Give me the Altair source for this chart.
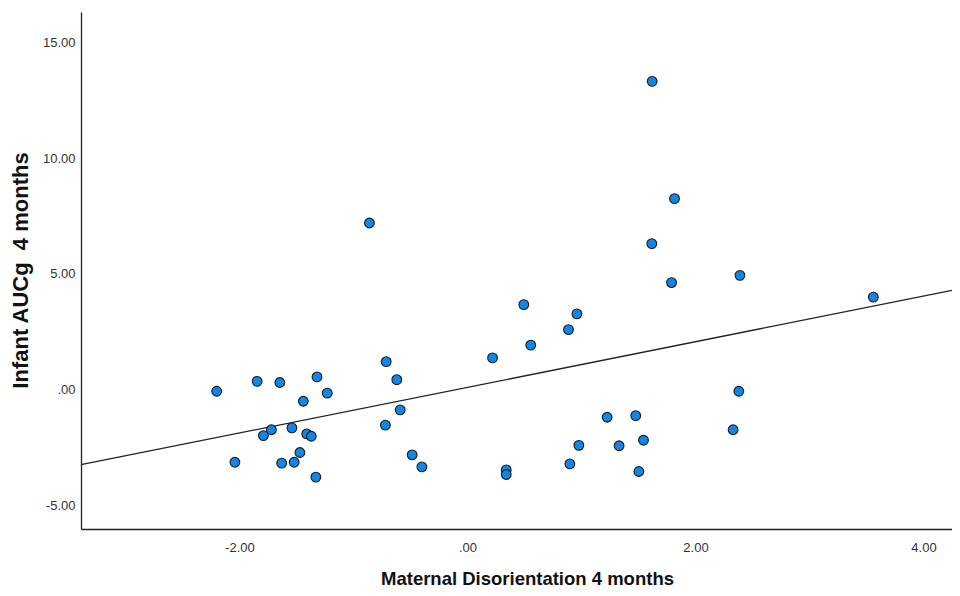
import altair as alt
import pandas as pd

# Maternal Disorientation 4 months (x) and Infant AUCg 4 months (y)
x_vals = [-2.20, -1.845, -1.646, -1.32, -1.23, -1.44, -1.72, -1.79, -1.54, -1.41,
          -1.37, -1.47, -2.04, -1.63, -1.52, -1.33,
          -0.86, 0.494, 0.555, 0.22, -0.713, -0.62, -0.59, -0.72, -0.485, -0.40,
          0.34, 0.34,
          1.79, 0.96, 0.886, 1.225, 1.476, 0.977, 1.33, 1.544, 0.898, 1.503,
          1.62, 1.816, 1.617,
          2.39, 3.56, 2.38, 2.33]
y_vals = [-0.06, 0.37, 0.32, 0.56, -0.14, -0.49, -1.72, -1.97, -1.64, -1.90,
          -2.00, -2.70, -3.12, -3.16, -3.12, -3.76,
          7.20, 3.68, 1.93, 1.38, 1.22, 0.44, -0.86, -1.52, -2.80, -3.32,
          -3.45, -3.65,
          4.63, 3.28, 2.60, -1.18, -1.11, -2.39, -2.41, -2.17, -3.19, -3.52,
          13.31, 8.25, 6.31,
          4.94, 4.00, -0.06, -1.72]

x_ticks = [-2, 0, 2, 4]
y_ticks = [-5, 0, 5, 10, 15]
x_domain = [-3.39, 4.25]
y_domain = [-6, 16.3]

df = pd.DataFrame({"x": x_vals, "y": y_vals})

FONT = "Liberation Sans, Arial, sans-serif"

label_expr = ("datum.value == 0 ? '.00' : (datum.value < 0 ? '-' + format(-datum.value, '.2f')"
              " : format(datum.value, '.2f'))")

x_enc = alt.X(
    "x:Q",
    scale=alt.Scale(domain=x_domain, nice=False, zero=False),
    axis=alt.Axis(
        title="Maternal Disorientation 4 months",
        values=x_ticks,
        labelExpr=label_expr,
        ticks=False,
        tickSize=0,
        grid=False,
        domainColor="#222222",
        domainWidth=1.3,
        labelFont=FONT,
        labelFontSize=13,
        labelColor="#333333",
        labelPadding=12,
        titleFont=FONT,
        titleFontSize=18.5,
        titleFontWeight="bold",
        titleColor="#111111",
        titleX=446,
        titleY=55,
        titleBaseline="alphabetic",
        titleAlign="center",
    ),
)
y_enc = alt.Y(
    "y:Q",
    scale=alt.Scale(domain=y_domain, nice=False, zero=False),
    axis=alt.Axis(
        title="Infant AUCg\u00a0 4 months",
        values=y_ticks,
        labelExpr=label_expr,
        ticks=False,
        tickSize=0,
        grid=False,
        domainColor="#222222",
        domainWidth=1.3,
        labelFont=FONT,
        labelFontSize=13,
        labelColor="#333333",
        labelPadding=6,
        titleFont=FONT,
        titleFontSize=22,
        titleFontWeight="bold",
        titleColor="#111111",
        titleX=-61,
        titleY=258,
        titleAngle=270,
        titleBaseline="middle",
        titleAlign="center",
    ),
)

points = alt.Chart(df).mark_point(
    filled=True, shape="circle", size=95, fill="#0f86e8",
    stroke="#1a1a1a", strokeWidth=1.1, opacity=1,
).encode(x=x_enc, y=y_enc)

line = alt.Chart(df).transform_regression(
    "x", "y", extent=x_domain
).mark_line(color="#222222", strokeWidth=1.3).encode(x=x_enc, y=y_enc)

chart = (line + points).properties(
    width=871,
    height=517,
    autosize=alt.AutoSizeParams(type="none"),
    padding={"left": 73, "top": 4, "right": 0, "bottom": 59},
    background="white",
).configure_view(stroke=None)

chart.save("out.html", embed_options={"renderer": "svg", "actions": False})
